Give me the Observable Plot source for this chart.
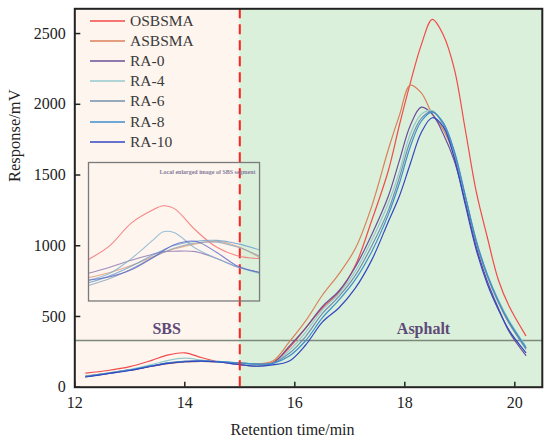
<!DOCTYPE html>
<html>
<head>
<meta charset="utf-8">
<script src="https://cdn.jsdelivr.net/npm/d3@7"></script>
<script src="https://cdn.jsdelivr.net/npm/@observablehq/plot@0.6"></script>
<style>
  html, body { margin: 0; padding: 0; background: #fff; }
  #wrap { position: relative; width: 550px; height: 443px; font-family: "Liberation Serif", "Times New Roman", serif; }
  #wrap svg { display: block; }
  .leg { position: absolute; display: flex; align-items: center; height: 20px; font-size: 15.5px; color: #3a3a3a; }
</style>
</head>
<body>
<div id="wrap"></div>
<script>
// ---------- data ----------
const seriesNames = ["OSBSMA", "ASBSMA", "RA-0", "RA-4", "RA-6", "RA-8", "RA-10"];
const seriesColors = ["#f24a4a", "#d9805a", "#6a4f9a", "#93c9cc", "#7290ad", "#3d8fcb", "#3346c2"];

const times = [12.2,12.6,13.0,13.4,13.7,14.0,14.3,14.6,15.0,15.3,15.6,15.9,16.2,16.5,16.8,17.1,17.4,17.7,17.9,18.1,18.3,18.5,18.7,18.9,19.1,19.3,19.5,19.7,19.9,20.2];

const osbsma = [100,118,145,190,228,243,210,180,165,160,175,280,420,560,670,860,1180,1530,1850,2150,2420,2600,2490,2250,1820,1380,1060,760,570,365];
const asbsma = [80,100,122,148,166,178,183,180,172,165,185,320,470,650,800,980,1280,1680,1920,2135,2080,1930,1820,1640,1340,1020,790,605,450,280];
const ra0    = [75,98,122,150,170,182,185,180,160,150,168,290,420,570,680,850,1080,1350,1600,1850,1980,1930,1790,1600,1310,990,750,560,390,225];
const ra4    = [78,100,125,160,190,205,192,178,165,158,165,260,390,545,660,820,1040,1300,1520,1790,1930,1955,1850,1650,1350,1040,800,620,470,290];
const ra6    = [74,96,120,150,170,180,183,180,172,165,170,240,360,520,640,790,1000,1250,1480,1740,1900,1950,1860,1660,1345,1025,785,600,450,270];
const ra8    = [76,98,122,152,172,182,186,182,172,163,168,220,330,490,615,760,960,1220,1440,1700,1880,1945,1870,1670,1355,1035,795,610,460,280];
const ra10   = [72,95,118,148,168,180,184,178,160,148,158,185,300,460,560,700,900,1170,1350,1580,1800,1905,1840,1620,1290,970,730,550,400,245];
const mainValues = [osbsma, asbsma, ra0, ra4, ra6, ra8, ra10];

// inset ("Local enlarged image of SBS segment")
const insetTimes = [13.0,13.3,13.6,13.9,14.05,14.2,14.5,14.8,15.1,15.4];
const insOsbsma = [148,164,190,205,210,207,182,162,152,149];
const insAsbsma = [127,133,141,151,156,160,166,169,163,150];
const insRa0    = [132,139,147,154,157,157.5,157,149,139,133];
const insRa4    = [124,132,149,170,180,179,161,149,139,132];
const insRa6    = [118,126,137,150,156,161,167,168,162,152];
const insRa8    = [121,129,140,153,159,164,169,170,166,159];
const insRa10   = [124,128,136,150,158,165,169,156,140,133];
const insetValues = [insOsbsma, insAsbsma, insRa0, insRa4, insRa6, insRa8, insRa10];
const insetColors = ["#f46a6a", "#e09a78", "#8a72b0", "#7fb0cf", "#8aa2b8", "#6a9fcc", "#5a64c8"];
const insetXDomain = [13.0, 15.4];
const insetYDomain = [100, 260];
// inset placement on the main chart (data units of the main chart)
const insetBoxX = [12.25, 15.36];
const insetBoxY = [608, 1587];

const xTicks = [12, 14, 16, 18, 20];
const yTicks = [0, 500, 1000, 1500, 2000, 2500];
const xDomain = [12, 20.5];
const yDomain = [0, 2675];

const regions = [
  {name: "SBS", start: 12, end: 15, fill: "#fdf5ee", labelX: 13.67},
  {name: "Asphalt", start: 15, end: 20.5, fill: "#dbf0da", labelX: 18.34}
];
const regionLabelY = 415;
const boundary = [15];
const baseline = [330];

// ---------- tables ----------
const mainRows = [];
seriesNames.forEach((s, i) => times.forEach((t, j) => mainRows.push({series: s, t, v: mainValues[i][j]})));
const insetRows = [];
seriesNames.forEach((s, i) => insetTimes.forEach((t, j) => insetRows.push({series: s, t, v: insetValues[i][j]})));

const font = "Liberation Serif, Times New Roman, serif";
const W = 550, H = 443;
const mL = 74.3, mR = 8.2, mT = 8.3, mB = 56.3;
const innerH = H - mT - mB, innerW = W - mL - mR;

const chart = Plot.plot({
  width: W, height: H,
  marginLeft: mL, marginRight: mR, marginTop: mT, marginBottom: mB,
  style: "font-family: 'Liberation Serif', serif; font-size: 16px; background: transparent;",
  x: {domain: xDomain},
  y: {domain: yDomain},
  color: {domain: seriesNames, range: seriesColors},
  marks: [
    Plot.rect(regions, {x1: "start", x2: "end", fill: "fill"}),
    Plot.ruleY(baseline, {stroke: "#7d897d", strokeWidth: 1.3}),
    Plot.text(regions, {x: "labelX", y: () => regionLabelY, text: "name", fill: "#5e4a78", fontWeight: "bold", fontSize: 16, fontFamily: font}),
    Plot.line(mainRows, {x: "t", y: "v", z: "series", stroke: "series", strokeWidth: 1.2, curve: "catmull-rom"}),
    Plot.ruleX(boundary, {stroke: "#ff2020", strokeWidth: 2, strokeDasharray: "10,6"}),
    Plot.ruleX(xTicks, {stroke: "#222", strokeWidth: 1.5, insetTop: innerH - 5}),
    Plot.ruleY(yTicks, {stroke: "#222", strokeWidth: 1.5, insetRight: innerW - 6}),
    Plot.axisX({ticks: xTicks, tickSize: 0, tickPadding: 9, tickFormat: d3.format("d"), label: null, fontSize: 16, fontFamily: font, fill: "#222"}),
    Plot.axisY({ticks: yTicks, tickSize: 0, tickPadding: 9, tickFormat: d3.format("d"), label: null, fontSize: 16, fontFamily: font, fill: "#222"}),
    Plot.text(["Retention time/min"], {frameAnchor: "bottom", dx: -16, dy: 43, lineAnchor: "middle", fontSize: 16, fontFamily: font, fill: "#222"}),
    Plot.text(["Response/mV"], {frameAnchor: "left", dx: -60, dy: -16, rotate: -90, fontSize: 16.5, fontFamily: font, fill: "#222"}),
    Plot.frame({stroke: "#222", strokeWidth: 2})
  ]
});

const wrap = document.getElementById("wrap");
wrap.appendChild(chart);

// ---------- inset ----------
const sx = chart.scale("x"), sy = chart.scale("y");
const ix0 = sx.apply(insetBoxX[0]), ix1 = sx.apply(insetBoxX[1]);
const iy0 = sy.apply(insetBoxY[1]), iy1 = sy.apply(insetBoxY[0]);
const inset = Plot.plot({
  width: ix1 - ix0, height: iy1 - iy0,
  margin: 0,
  style: "background: transparent; overflow: visible; font-family: 'Liberation Serif', serif;",
  x: {domain: insetXDomain, axis: null},
  y: {domain: insetYDomain, axis: null},
  color: {domain: seriesNames, range: insetColors},
  marks: [
    Plot.line(insetRows, {x: "t", y: "v", z: "series", stroke: "series", strokeWidth: 1.1, strokeOpacity: 0.8, curve: "catmull-rom"}),
    Plot.frame({stroke: "#7a7a7a", strokeWidth: 1.3}),
    Plot.text(["Local enlarged image of SBS segment"], {frameAnchor: "top-right", dx: -4, dy: 7, fontSize: 6, fontWeight: "bold", fontFamily: font, fill: "#8a7d9a"})
  ]
});
inset.style.position = "absolute";
inset.style.left = ix0 + "px";
inset.style.top = iy0 + "px";
wrap.appendChild(inset);

// ---------- legend ----------
seriesNames.forEach((s, i) => {
  const row = document.createElement("div");
  row.className = "leg";
  row.style.left = "90px";
  row.style.top = (10.7 + i * 20.17) + "px";
  row.innerHTML = `<svg width="40" height="20"><line x1="0" x2="35" y1="10" y2="10" stroke="${seriesColors[i]}" stroke-width="1.6"/></svg><span>${s}</span>`;
  wrap.appendChild(row);
});
</script>
</body>
</html>
